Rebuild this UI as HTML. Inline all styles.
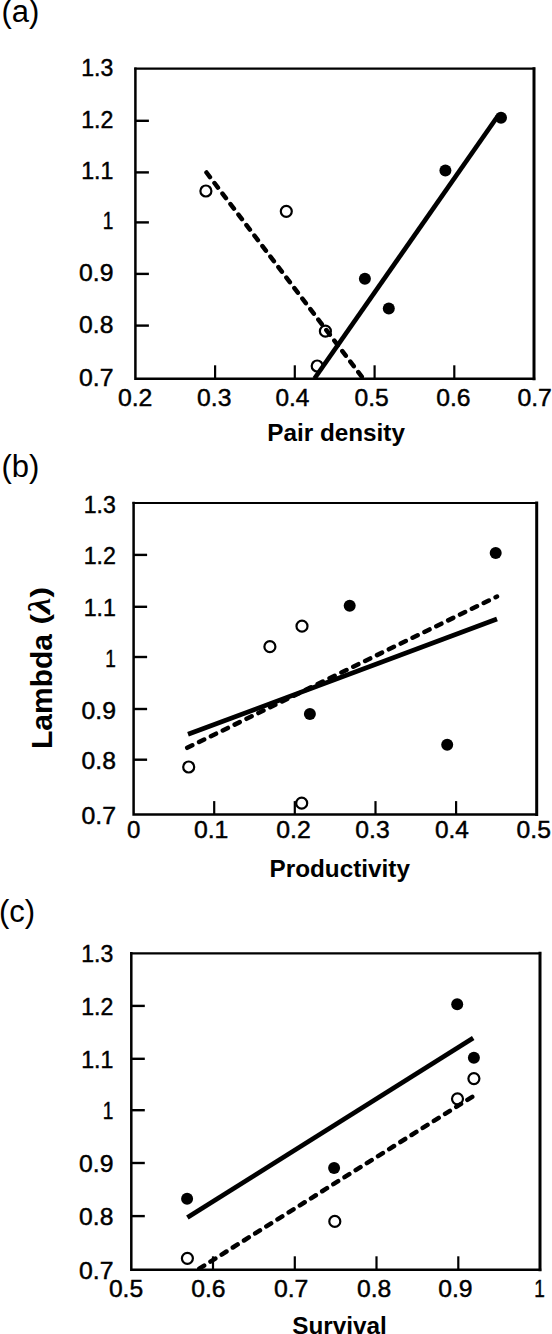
<!DOCTYPE html><html><head><meta charset="utf-8"><style>html,body{margin:0;padding:0;background:#fff;}svg{display:block;}text{font-family:"Liberation Sans", sans-serif;fill:#000;}.t{stroke:#000;stroke-width:0.45px;}</style></head><body>
<svg width="552" height="1334" viewBox="0 0 552 1334">
<rect width="552" height="1334" fill="#fff"/>
<text x="1.5" y="22.3" font-size="31">(a)</text>
<path d="M135.4 68.7V378.8H534.0" fill="none" stroke="#000" stroke-width="2.5" stroke-linecap="square"/>
<path d="M135.4 68.7H534.0" fill="none" stroke="#000" stroke-width="2.2" stroke-linecap="square"/>
<path d="M534.0 68.7V378.8" fill="none" stroke="#000" stroke-width="3" stroke-linecap="square"/>
<line x1="135.4" y1="120.8" x2="148.9" y2="120.8" stroke="#000" stroke-width="2.4"/>
<line x1="135.4" y1="172.4" x2="148.9" y2="172.4" stroke="#000" stroke-width="2.4"/>
<line x1="135.4" y1="222.4" x2="148.9" y2="222.4" stroke="#000" stroke-width="2.4"/>
<line x1="135.4" y1="273.9" x2="148.9" y2="273.9" stroke="#000" stroke-width="2.4"/>
<line x1="135.4" y1="325.6" x2="148.9" y2="325.6" stroke="#000" stroke-width="2.4"/>
<line x1="215.1" y1="378.8" x2="215.1" y2="365.3" stroke="#000" stroke-width="2.2"/>
<line x1="294.8" y1="378.8" x2="294.8" y2="365.3" stroke="#000" stroke-width="2.2"/>
<line x1="374.6" y1="378.8" x2="374.6" y2="365.3" stroke="#000" stroke-width="2.2"/>
<line x1="454.3" y1="378.8" x2="454.3" y2="365.3" stroke="#000" stroke-width="2.2"/>
<text class="t" transform="translate(81.24 75.72) scale(0.990 1)" font-size="23.3">1.3</text>
<text class="t" transform="translate(81.23 127.82) scale(0.995 1)" font-size="23.3">1.2</text>
<text class="t" transform="translate(81.24 179.42) scale(0.994 1)" font-size="23.3">1.1</text>
<text class="t" transform="translate(102.65 229.42) scale(0.816 1)" font-size="23.3">1</text>
<text class="t" transform="translate(79.03 280.92) scale(1.063 1)" font-size="23.3">0.9</text>
<text class="t" transform="translate(79.04 332.62) scale(1.060 1)" font-size="23.3">0.8</text>
<text class="t" transform="translate(79.03 385.82) scale(1.066 1)" font-size="23.3">0.7</text>
<text class="t" transform="translate(117.88 405.82) scale(1.066 1)" font-size="23.3">0.2</text>
<text class="t" transform="translate(197.08 405.82) scale(1.061 1)" font-size="23.3">0.3</text>
<text class="t" transform="translate(275.40 405.82) scale(1.049 1)" font-size="23.3">0.4</text>
<text class="t" transform="translate(354.49 405.82) scale(1.059 1)" font-size="23.3">0.5</text>
<text class="t" transform="translate(436.18 405.82) scale(1.061 1)" font-size="23.3">0.6</text>
<text class="t" transform="translate(517.38 405.82) scale(1.066 1)" font-size="23.3">0.7</text>
<circle cx="501.0" cy="117.8" r="6" fill="#000"/>
<circle cx="445.4" cy="170.6" r="6" fill="#000"/>
<circle cx="364.9" cy="278.7" r="6" fill="#000"/>
<circle cx="388.8" cy="308.6" r="6" fill="#000"/>
<circle cx="205.9" cy="191.0" r="5.5" fill="#fff" stroke="#000" stroke-width="2.2"/>
<circle cx="286.3" cy="211.3" r="5.5" fill="#fff" stroke="#000" stroke-width="2.2"/>
<circle cx="325.4" cy="331.2" r="5.5" fill="#fff" stroke="#000" stroke-width="2.2"/>
<circle cx="317.2" cy="366.0" r="5.5" fill="#fff" stroke="#000" stroke-width="2.2"/>
<line x1="314.5" y1="378.5" x2="497.5" y2="116.5" stroke="#000" stroke-width="4.7"/>
<line x1="206.5" y1="172.5" x2="362.0" y2="377.0" stroke="#000" stroke-width="4.5" stroke-dasharray="5.7 7.5" stroke-linecap="round"/>
<text x="336.1" y="441.2" text-anchor="middle" font-size="24.3" font-weight="bold">Pair density</text>
<text x="1.5" y="477.1" font-size="31">(b)</text>
<path d="M133.6 503.0V814.6H536.7" fill="none" stroke="#000" stroke-width="2.5" stroke-linecap="square"/>
<path d="M133.6 503.0H536.7" fill="none" stroke="#000" stroke-width="2.2" stroke-linecap="square"/>
<path d="M536.7 503.0V814.6" fill="none" stroke="#000" stroke-width="3" stroke-linecap="square"/>
<line x1="133.6" y1="554.9" x2="147.1" y2="554.9" stroke="#000" stroke-width="2.4"/>
<line x1="133.6" y1="606.8" x2="147.1" y2="606.8" stroke="#000" stroke-width="2.4"/>
<line x1="133.6" y1="657.0" x2="147.1" y2="657.0" stroke="#000" stroke-width="2.4"/>
<line x1="133.6" y1="709.0" x2="147.1" y2="709.0" stroke="#000" stroke-width="2.4"/>
<line x1="133.6" y1="759.7" x2="147.1" y2="759.7" stroke="#000" stroke-width="2.4"/>
<line x1="214.2" y1="814.6" x2="214.2" y2="801.1" stroke="#000" stroke-width="2.2"/>
<line x1="294.8" y1="814.6" x2="294.8" y2="801.1" stroke="#000" stroke-width="2.2"/>
<line x1="375.5" y1="814.6" x2="375.5" y2="801.1" stroke="#000" stroke-width="2.2"/>
<line x1="456.1" y1="814.6" x2="456.1" y2="801.1" stroke="#000" stroke-width="2.2"/>
<text class="t" transform="translate(83.74 512.52) scale(0.990 1)" font-size="23.3">1.3</text>
<text class="t" transform="translate(83.73 564.42) scale(0.995 1)" font-size="23.3">1.2</text>
<text class="t" transform="translate(83.74 616.32) scale(0.994 1)" font-size="23.3">1.1</text>
<text class="t" transform="translate(105.15 666.52) scale(0.816 1)" font-size="23.3">1</text>
<text class="t" transform="translate(81.53 718.52) scale(1.063 1)" font-size="23.3">0.9</text>
<text class="t" transform="translate(81.54 769.22) scale(1.060 1)" font-size="23.3">0.8</text>
<text class="t" transform="translate(81.53 824.12) scale(1.066 1)" font-size="23.3">0.7</text>
<text class="t" transform="translate(127.11 838.22) scale(1.032 1)" font-size="23.3">0</text>
<text class="t" transform="translate(193.88 838.22) scale(1.065 1)" font-size="23.3">0.1</text>
<text class="t" transform="translate(276.18 838.22) scale(1.066 1)" font-size="23.3">0.2</text>
<text class="t" transform="translate(355.28 838.22) scale(1.061 1)" font-size="23.3">0.3</text>
<text class="t" transform="translate(434.90 838.22) scale(1.049 1)" font-size="23.3">0.4</text>
<text class="t" transform="translate(516.59 838.22) scale(1.059 1)" font-size="23.3">0.5</text>
<circle cx="495.7" cy="553.0" r="6" fill="#000"/>
<circle cx="349.7" cy="605.7" r="6" fill="#000"/>
<circle cx="309.9" cy="714.0" r="6" fill="#000"/>
<circle cx="447.2" cy="744.8" r="6" fill="#000"/>
<circle cx="188.7" cy="767.0" r="5.5" fill="#fff" stroke="#000" stroke-width="2.2"/>
<circle cx="269.9" cy="646.7" r="5.5" fill="#fff" stroke="#000" stroke-width="2.2"/>
<circle cx="302.0" cy="626.2" r="5.5" fill="#fff" stroke="#000" stroke-width="2.2"/>
<circle cx="301.7" cy="803.2" r="5.5" fill="#fff" stroke="#000" stroke-width="2.2"/>
<line x1="188.0" y1="734.3" x2="497.0" y2="619.0" stroke="#000" stroke-width="4.7"/>
<line x1="187.2" y1="747.8" x2="497.0" y2="596.5" stroke="#000" stroke-width="4.5" stroke-dasharray="5.7 7.5" stroke-linecap="round"/>
<text x="339.7" y="876.8" text-anchor="middle" font-size="24.3" font-weight="bold">Productivity</text>
<text x="-1.0" y="922.2" font-size="31">(c)</text>
<path d="M131.3 953.3V1269.8H540.0" fill="none" stroke="#000" stroke-width="2.5" stroke-linecap="square"/>
<path d="M131.3 953.3H540.0" fill="none" stroke="#000" stroke-width="2.2" stroke-linecap="square"/>
<path d="M540.0 953.3V1269.8" fill="none" stroke="#000" stroke-width="3" stroke-linecap="square"/>
<line x1="131.3" y1="1005.9" x2="144.8" y2="1005.9" stroke="#000" stroke-width="2.4"/>
<line x1="131.3" y1="1058.8" x2="144.8" y2="1058.8" stroke="#000" stroke-width="2.4"/>
<line x1="131.3" y1="1110.2" x2="144.8" y2="1110.2" stroke="#000" stroke-width="2.4"/>
<line x1="131.3" y1="1163.0" x2="144.8" y2="1163.0" stroke="#000" stroke-width="2.4"/>
<line x1="131.3" y1="1216.1" x2="144.8" y2="1216.1" stroke="#000" stroke-width="2.4"/>
<line x1="213.0" y1="1269.8" x2="213.0" y2="1256.3" stroke="#000" stroke-width="2.2"/>
<line x1="294.8" y1="1269.8" x2="294.8" y2="1256.3" stroke="#000" stroke-width="2.2"/>
<line x1="376.5" y1="1269.8" x2="376.5" y2="1256.3" stroke="#000" stroke-width="2.2"/>
<line x1="458.3" y1="1269.8" x2="458.3" y2="1256.3" stroke="#000" stroke-width="2.2"/>
<text class="t" transform="translate(81.24 962.12) scale(0.990 1)" font-size="23.3">1.3</text>
<text class="t" transform="translate(81.23 1014.72) scale(0.995 1)" font-size="23.3">1.2</text>
<text class="t" transform="translate(81.24 1067.62) scale(0.994 1)" font-size="23.3">1.1</text>
<text class="t" transform="translate(102.65 1119.02) scale(0.816 1)" font-size="23.3">1</text>
<text class="t" transform="translate(79.03 1171.82) scale(1.063 1)" font-size="23.3">0.9</text>
<text class="t" transform="translate(79.04 1224.92) scale(1.060 1)" font-size="23.3">0.8</text>
<text class="t" transform="translate(79.03 1278.62) scale(1.066 1)" font-size="23.3">0.7</text>
<text class="t" transform="translate(108.89 1297.22) scale(1.059 1)" font-size="23.3">0.5</text>
<text class="t" transform="translate(191.18 1297.22) scale(1.061 1)" font-size="23.3">0.6</text>
<text class="t" transform="translate(273.88 1297.22) scale(1.066 1)" font-size="23.3">0.7</text>
<text class="t" transform="translate(356.99 1297.22) scale(1.060 1)" font-size="23.3">0.8</text>
<text class="t" transform="translate(438.18 1297.22) scale(1.063 1)" font-size="23.3">0.9</text>
<text class="t" transform="translate(534.25 1297.22) scale(0.816 1)" font-size="23.3">1</text>
<circle cx="187.1" cy="1198.7" r="6" fill="#000"/>
<circle cx="334.1" cy="1168.0" r="6" fill="#000"/>
<circle cx="457.2" cy="1004.3" r="6" fill="#000"/>
<circle cx="473.9" cy="1057.8" r="6" fill="#000"/>
<circle cx="187.4" cy="1258.3" r="5.5" fill="#fff" stroke="#000" stroke-width="2.2"/>
<circle cx="334.8" cy="1221.4" r="5.5" fill="#fff" stroke="#000" stroke-width="2.2"/>
<circle cx="473.9" cy="1078.6" r="5.5" fill="#fff" stroke="#000" stroke-width="2.2"/>
<circle cx="457.5" cy="1098.8" r="5.5" fill="#fff" stroke="#000" stroke-width="2.2"/>
<line x1="187.4" y1="1217.5" x2="473.2" y2="1038.0" stroke="#000" stroke-width="4.7"/>
<line x1="199.3" y1="1268.6" x2="473.5" y2="1096.0" stroke="#000" stroke-width="4.5" stroke-dasharray="5.7 7.5" stroke-linecap="round"/>
<text x="339.5" y="1334.2" text-anchor="middle" font-size="24.3" font-weight="bold">Survival</text>
<text transform="translate(51.7 749) rotate(-90)" font-size="30" font-weight="bold">Lambda</text>
<text transform="translate(48.9 624.6) rotate(-90) scale(1.2 1)" font-size="26.5" font-weight="bold">(<tspan font-family="Liberation Serif" font-style="italic" font-weight="bold" font-size="31" dy="1">&#955;</tspan><tspan dy="-1">)</tspan></text>
</svg></body></html>
